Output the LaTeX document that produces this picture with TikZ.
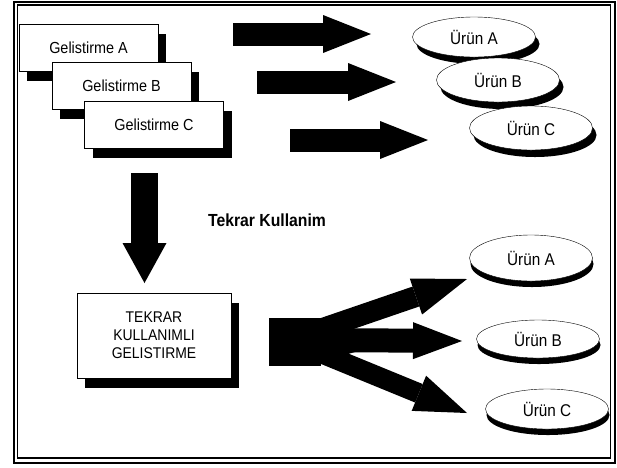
\documentclass[tikz,border=0pt]{standalone}
\usepackage{fontspec}
\setmainfont[FakeStretch=0.9]{Liberation Sans}
\usetikzlibrary{arrows.meta,shapes.geometric,shadows}
\tikzset{gbox/.style={draw=black,fill=white,minimum width=139pt,minimum height=47pt,inner sep=0pt,font=\fontsize{16}{19}\selectfont,drop shadow={shadow xshift=8pt,shadow yshift=-10pt,fill=black,opacity=1}},urun/.style={ellipse,draw=black,fill=white,minimum width=123pt,inner sep=0pt,font=\fontsize{17}{19}\selectfont},ushad/.style={drop shadow={shadow xshift=4pt,shadow yshift=-7pt,fill=black,opacity=1}},dshad/.style={drop shadow={shadow xshift=1pt,shadow yshift=-6pt,fill=black,opacity=1}},fat/.style={line width=23pt,-{Triangle[length=48pt,width=38pt,line width=0pt]}}}

\begin{document}
\begin{tikzpicture}[x=1pt,y=-1pt]
\useasboundingbox (0,0) rectangle (617,467);
\draw[line width=2pt] (13.5,1.5) rectangle (614.5,463);
\draw[line width=1.3pt] (17.2,5) rectangle (610.5,458);
\node[gbox] (ga) at (88.5,47.5) {Gelistirme A};
\node[gbox] (gb) at (121.5,85.5) {Gelistirme B};
\node[gbox] (gc) at (154,124.5) {Gelistirme C};
\node[urun,ushad,minimum height=40pt] (ua) at (474,37) {Ürün A};
\node[urun,ushad,minimum height=44pt] (ub) at (498,80) {Ürün B};
\node[urun,ushad,minimum height=44pt] (uc) at (531,128) {Ürün C};
\node[font=\bfseries\fontsize{17.5}{20}\selectfont] (lab) at (267,220) {Tekrar Kullanim};
\node[gbox,minimum width=154pt,minimum height=85pt,align=center,font=\fontsize{15.5}{18}\selectfont] (tk) at (154,335.5) {TEKRAR\\KULLANIMLI\\GELISTIRME};
\node[fill=black,minimum width=52pt,minimum height=48pt,inner sep=0pt] (sq) at (295,342) {};
\node[urun,dshad,minimum height=46pt] (va) at (531,258) {Ürün A};
\node[urun,dshad,minimum height=38pt] (vb) at (538,339) {Ürün B};
\node[urun,dshad,minimum height=40pt] (vc) at (547,409) {Ürün C};
% arrow ends
\coordinate (s1) at (233,34);\coordinate (t1) at (371,34);
\coordinate (s2) at (257,82);\coordinate (t2) at (396,82);
\coordinate (s3) at (290,140);\coordinate (t3) at (428,140);
\coordinate (s4) at (144.5,173);\coordinate (t4) at (144.5,283);
\coordinate (f1) at (467,279);\coordinate (f2) at (462,341);\coordinate (f3) at (467,413);
\draw[fat](s1)--(t1);\draw[fat](s2)--(t2);\draw[fat](s3)--(t3);
\draw[fat,line width=27pt,-{Triangle[length=40pt,width=44pt,line width=0pt]}](s4)--(t4);
% fan out of the square
\fill (320,322)--(349,330)--(355,352)--(320,362)--cycle;
\draw[fat,line width=21pt,-{Triangle[length=54pt,width=38pt,line width=0pt]}]([xshift=-3pt,yshift=12pt]sq.east)--(f1);
\draw[fat,line width=24pt,-{Triangle[length=49pt,width=37pt,line width=0pt]}]([xshift=-3pt,yshift=2pt]sq.east)--(f2);
\draw[fat,line width=20pt,-{Triangle[length=52pt,width=38pt,line width=0pt]}]([xshift=-3pt,yshift=-10pt]sq.east)--(f3);
\end{tikzpicture}
\end{document}
